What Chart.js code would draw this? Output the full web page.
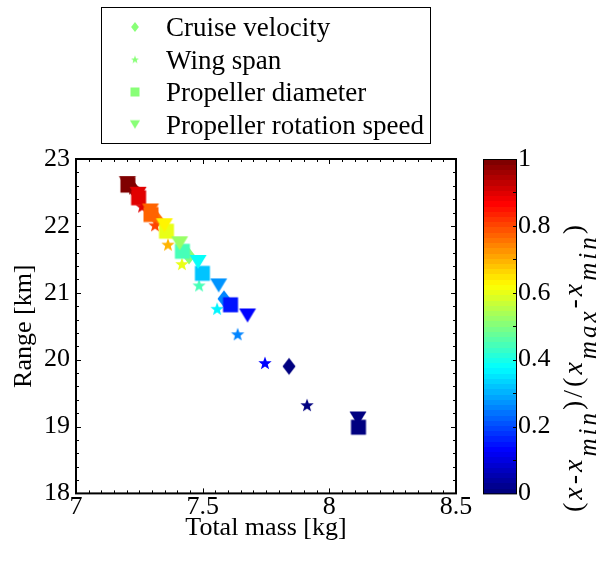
<!DOCTYPE html>
<html>
<head>
<meta charset="utf-8">
<script src="https://cdn.jsdelivr.net/npm/chart.js@4.4.1/dist/chart.umd.min.js"></script>
<style>
  html, body { margin: 0; padding: 0; background: #fff; overflow: hidden; }
  canvas { display: block; }
</style>
</head>
<body>
<canvas id="chart" width="601" height="571"></canvas>
<script>
// Sweep results: total mass [kg], range [km] and normalised parameter level
const cruiseMass  = [7.221, 7.320, 7.446, 7.584, 7.841];
const cruiseRange = [22.58, 22.10, 21.55, 20.91, 19.90];
const cruiseLevel = [1, 0.75, 0.5, 0.25, 0];

const spanMass  = [7.225, 7.261, 7.312, 7.363, 7.418, 7.486, 7.557, 7.638, 7.746, 7.912];
const spanRange = [22.56, 22.29, 22.01, 21.72, 21.43, 21.11, 20.76, 20.38, 19.95, 19.32];
const spanLevel = [1, 0.9, 0.8, 0.7, 0.6, 0.45, 0.37, 0.26, 0.13, 0];

const diamMass  = [7.205, 7.247, 7.296, 7.357, 7.420, 7.499, 7.610, 8.115];
const diamRange = [22.61, 22.42, 22.17, 21.92, 21.62, 21.29, 20.82, 18.99];
const diamLevel = [1, 0.9, 0.78, 0.6, 0.45, 0.32, 0.15, 0];

const rpmMass  = [7.203, 7.245, 7.294, 7.349, 7.409, 7.482, 7.563, 7.677, 8.113];
const rpmRange = [22.64, 22.48, 22.23, 22.01, 21.74, 21.46, 21.11, 20.66, 19.12];
const rpmLevel = [1, 0.9, 0.78, 0.64, 0.52, 0.38, 0.27, 0.14, 0];

const seriesNames = ['Cruise velocity', 'Wing span', 'Propeller diameter', 'Propeller rotation speed'];
const massTicks = [7, 7.5, 8, 8.5];
const rangeTicks = [18, 19, 20, 21, 22, 23];
const levelTicks = [0, 0.2, 0.4, 0.6, 0.8, 1];

const SERIF = '"Liberation Serif", "Times New Roman", serif';
Chart.defaults.font.family = SERIF;
Chart.defaults.font.size = 26;
Chart.defaults.color = '#000';

// jet colour map, 64 levels
function jet(c) {
  const k = Math.min(63, Math.max(0, Math.floor(c * 64)));
  const t = k / 63;
  const cl = v => Math.round(255 * Math.min(1, Math.max(0, v)));
  const r = cl(Math.min(4 * t - 1.5, -4 * t + 4.5));
  const g = cl(Math.min(4 * t - 0.5, -4 * t + 3.5));
  const b = cl(Math.min(4 * t + 0.5, -4 * t + 2.5));
  return 'rgb(' + r + ',' + g + ',' + b + ')';
}

// marker sprites, cached by shape/colour/scale
const markerCache = {};
function marker(shape, color, k) {
  const key = shape + color + k;
  if (markerCache[key]) return markerCache[key];
  const size = Math.ceil(20 * k) + 2;
  const cv = document.createElement('canvas');
  cv.width = size; cv.height = size;
  const g = cv.getContext('2d');
  const cx = size / 2, cy = size / 2;
  g.fillStyle = color;
  g.beginPath();
  if (shape === 'diamond') {
    g.moveTo(cx, cy - 8.5 * k);
    g.lineTo(cx + 6.5 * k, cy);
    g.lineTo(cx, cy + 8.5 * k);
    g.lineTo(cx - 6.5 * k, cy);
  } else if (shape === 'star') {
    for (let i = 0; i < 10; i++) {
      const rad = (i % 2 === 0 ? 7 : 2.9) * k;
      const a = -Math.PI / 2 + i * Math.PI / 5;
      const px = cx + rad * Math.cos(a), py = cy + 0.5 * k + rad * Math.sin(a);
      if (i === 0) g.moveTo(px, py); else g.lineTo(px, py);
    }
  } else if (shape === 'square') {
    g.rect(cx - 7.5 * k, cy - 7.5 * k, 15 * k, 15 * k);
  } else {
    g.moveTo(cx - 8.5 * k, cy - 7 * k);
    g.lineTo(cx + 8.5 * k, cy - 7 * k);
    g.lineTo(cx, cy + 7 * k);
  }
  g.closePath();
  g.fill();
  markerCache[key] = cv;
  return cv;
}

function makeSet(label, shape, mass, range, level, order) {
  return {
    label: label,
    shape: shape,
    order: order,
    data: mass.map((m, i) => ({ x: m, y: range[i] })),
    pointStyle: c => marker(shape, jet(level[c.dataIndex]), 1),
    pointRadius: 7,
    pointBorderWidth: 0,
    showLine: false
  };
}

// box, inward ticks, colour bar and legend
const framePlugin = {
  id: 'frame',
  afterDraw(chart) {
    const { ctx, chartArea: a, scales } = chart;
    const x = scales.x, y = scales.y, cb = scales.cb;
    ctx.save();
    ctx.strokeStyle = '#000';
    ctx.fillStyle = '#000';

    // minor ticks
    ctx.lineWidth = 1;
    ctx.beginPath();
    for (let i = 0; i <= 30; i++) {
      const px = Math.round(x.getPixelForValue(7 + i * 0.05)) + 0.5;
      ctx.moveTo(px, a.bottom); ctx.lineTo(px, a.bottom - 3);
      ctx.moveTo(px, a.top); ctx.lineTo(px, a.top + 3);
    }
    for (let i = 0; i <= 25; i++) {
      const py = Math.round(y.getPixelForValue(18 + i * 0.2)) + 0.5;
      ctx.moveTo(a.left, py); ctx.lineTo(a.left + 3, py);
      ctx.moveTo(a.right, py); ctx.lineTo(a.right - 3, py);
    }
    ctx.stroke();

    // major ticks
    ctx.beginPath();
    massTicks.forEach(v => {
      const px = Math.round(x.getPixelForValue(v)) + 0.5;
      ctx.moveTo(px, a.bottom); ctx.lineTo(px, a.bottom - 5);
      ctx.moveTo(px, a.top); ctx.lineTo(px, a.top + 5);
    });
    rangeTicks.forEach(v => {
      const py = Math.round(y.getPixelForValue(v)) + 0.5;
      ctx.moveTo(a.left, py); ctx.lineTo(a.left + 5, py);
      ctx.moveTo(a.right, py); ctx.lineTo(a.right - 5, py);
    });
    ctx.stroke();

    // axes box
    ctx.lineWidth = 2;
    ctx.strokeRect(a.left, a.top, a.right - a.left, a.bottom - a.top);

    // colour bar
    const bx = cb.left + 27, bw = 33;
    const top = cb.getPixelForValue(1), bottom = cb.getPixelForValue(0);
    for (let k = 0; k < 64; k++) {
      const y0 = cb.getPixelForValue((k + 1) / 64), y1 = cb.getPixelForValue(k / 64);
      ctx.fillStyle = jet(k / 64 + 0.001);
      ctx.fillRect(bx, Math.floor(y0), bw, Math.ceil(y1) - Math.floor(y0));
    }
    ctx.lineWidth = 1;
    ctx.strokeRect(bx + 0.5, top + 0.5, bw, bottom - top);
    ctx.beginPath();
    for (let i = 1; i < 10; i++) {
      const py = Math.round(cb.getPixelForValue(i / 10)) + 0.5;
      ctx.moveTo(bx + bw, py); ctx.lineTo(bx + bw - 3, py);
    }
    ctx.stroke();

    // colour bar title, read bottom to top
    ctx.fillStyle = '#000';
    ctx.save();
    ctx.translate(582, 512);
    ctx.rotate(-Math.PI / 2);
    ctx.textBaseline = 'alphabetic';
    ctx.textAlign = 'left';
    ctx.letterSpacing = '3px';
    const parts = [['(', 'n'], ['x', 'i'], ['-', 'n'], ['x', 'i'], ['min', 's'], [')/(', 'n'],
      ['x', 'i'], ['max', 's'], ['-', 'n'], ['x', 'i'], ['min', 's'], [')', 'n']];
    let pos = 0;
    parts.forEach(([t, kind]) => {
      ctx.font = kind === 'n' ? '28px ' + SERIF : kind === 'i' ? 'italic 28px ' + SERIF : 'italic 25px ' + SERIF;
      ctx.fillText(t, pos, kind === 's' ? 14 : 0);
      pos += ctx.measureText(t).width;
    });
    ctx.restore();

    // legend
    ctx.lineWidth = 1;
    ctx.strokeStyle = '#000';
    ctx.fillStyle = '#fff';
    ctx.fillRect(101, 7, 329, 136);
    ctx.strokeRect(101.5, 7.5, 329, 136);
    ctx.font = '27px ' + SERIF;
    ctx.fillStyle = '#000';
    ctx.textBaseline = 'middle';
    chart.data.datasets.forEach((ds, i) => {
      const ry = 27 + i * 32.5;
      const img = marker(ds.shape, jet(0.5), 0.6);
      ctx.drawImage(img, 135 - img.width / 2, ry - img.height / 2);
      ctx.fillText(ds.label, 166, ry + 2);
    });
    ctx.restore();
  }
};

const plain = v => String(v);

new Chart(document.getElementById('chart'), {
  type: 'scatter',
  data: {
    datasets: [
      makeSet(seriesNames[0], 'diamond', cruiseMass, cruiseRange, cruiseLevel, 3),
      makeSet(seriesNames[1], 'star', spanMass, spanRange, spanLevel, 2),
      makeSet(seriesNames[2], 'square', diamMass, diamRange, diamLevel, 1),
      makeSet(seriesNames[3], 'triangle', rpmMass, rpmRange, rpmLevel, 0)
    ]
  },
  options: {
    responsive: false,
    animation: false,
    events: [],
    layout: { padding: { top: 159, left: 0, right: 0, bottom: 0 } },
    plugins: { legend: { display: false }, tooltip: { enabled: false } },
    scales: {
      x: {
        type: 'linear', min: 7, max: 8.5,
        afterBuildTicks: s => { s.ticks = massTicks.map(v => ({ value: v })); },
        ticks: { font: { family: SERIF, size: 26 }, color: '#000', padding: -2, maxRotation: 0, callback: plain },
        grid: { display: false, drawTicks: false },
        border: { display: false },
        title: { display: true, text: 'Total mass [kg]', font: { family: SERIF, size: 26 }, color: '#000', padding: { top: 0, bottom: 18 } },
        afterFit: s => { s.height = 68; }
      },
      y: {
        type: 'linear', min: 18, max: 23,
        afterBuildTicks: s => { s.ticks = rangeTicks.map(v => ({ value: v })); },
        ticks: { font: { family: SERIF, size: 26 }, color: '#000', padding: 6, callback: plain },
        grid: { display: false, drawTicks: false },
        border: { display: false },
        title: { display: true, text: 'Range [km]', font: { family: SERIF, size: 26 }, color: '#000', padding: { top: 9, bottom: 0 } },
        afterFit: s => { s.width = 76; }
      },
      cb: {
        type: 'linear', position: 'right', min: 0, max: 1,
        afterBuildTicks: s => { s.ticks = levelTicks.map(v => ({ value: v })); },
        ticks: { font: { family: SERIF, size: 26 }, color: '#000', padding: 62, callback: plain },
        grid: { display: false, drawTicks: false },
        border: { display: false },
        afterFit: s => { s.width = 145; }
      }
    }
  },
  plugins: [framePlugin]
});
</script>
</body>
</html>
